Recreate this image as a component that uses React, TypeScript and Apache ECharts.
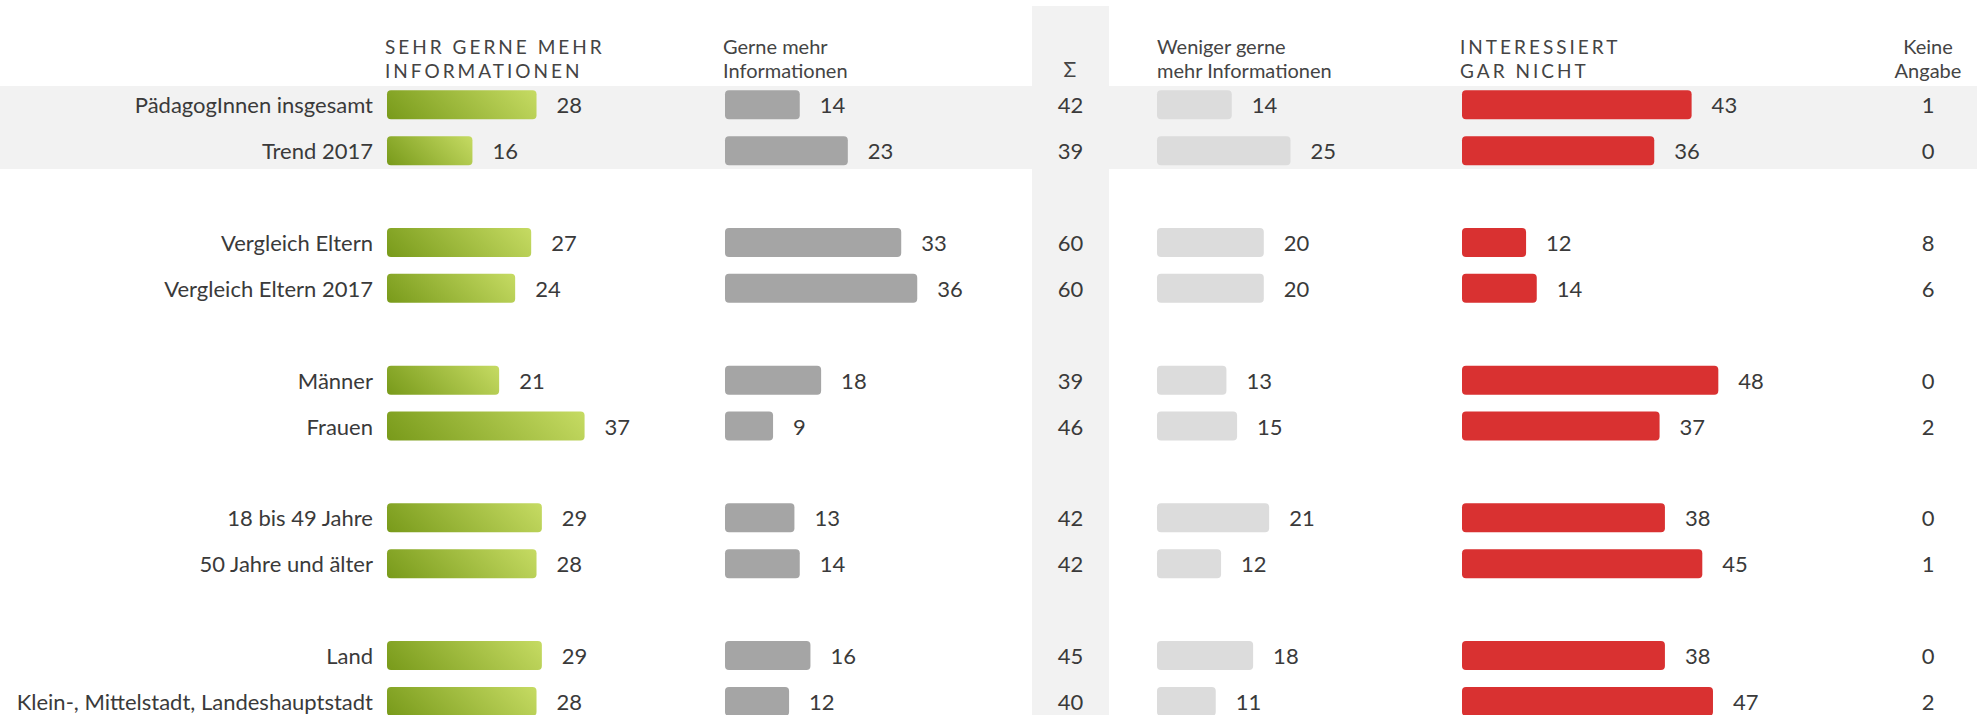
import React, { useEffect, useRef } from "react";
import * as echarts from "echarts";

const categories = [
  "PädagogInnen insgesamt",
  "Trend 2017",
  "Vergleich Eltern",
  "Vergleich Eltern 2017",
  "Männer",
  "Frauen",
  "18 bis 49 Jahre",
  "50 Jahre und älter",
  "Land",
  "Klein-, Mittelstadt, Landeshauptstadt",
];
const sehrGerne = [28, 16, 27, 24, 21, 37, 29, 28, 29, 28];
const gerne = [14, 23, 33, 36, 18, 9, 13, 14, 16, 12];
const summe = [42, 39, 60, 60, 39, 46, 42, 42, 45, 40];
const wenigerGerne = [14, 25, 20, 20, 13, 15, 21, 12, 18, 11];
const garNicht = [43, 36, 12, 14, 48, 37, 38, 45, 38, 47];
const keineAngabe = [1, 0, 8, 6, 0, 2, 0, 1, 0, 2];

const headerSehr = "SEHR GERNE MEHR\nINFORMATIONEN";
const headerGerne = "Gerne mehr\nInformationen";
const headerSum = "Σ";
const headerWeniger = "Weniger gerne\nmehr Informationen";
const headerGar = "INTERESSIERT\nGAR NICHT";
const headerKeine = "Keine\nAngabe";
const spacedLines = ["SEHR GERNE MEHR", "INFORMATIONEN", "INTERESSIERT", "GAR NICHT"];

const GROUP = 2;
const GAP = "__gap";

function withGaps<T>(arr: T[], gapVal: T): T[] {
  const out: T[] = [];
  arr.forEach((v, i) => {
    out.push(v);
    if (i % GROUP === GROUP - 1 && i < arr.length - 1) out.push(gapVal);
  });
  return out;
}

const slotCats = (() => {
  const out: string[] = [];
  categories.forEach((c, i) => {
    out.push(c);
    if (i % GROUP === GROUP - 1 && i < categories.length - 1) out.push(GAP + i);
  });
  return out;
})();

const FONT = "Lato";
const TEXT = "#3a3a3a";
const TOP = 81.8;
const HEIGHT = 642.6;
const BAR_W = 267;
const X_MAX = 50;
const BAR_H = 29;
const FS = 22;

// 45° gradient (bottom-left dark -> top-right light), expressed in the
// bar's bounding-box space so that the corners hit the two end colours
function greenGradient(params: any) {
  const v = Number(params.value) || 1;
  const w = (v / X_MAX) * BAR_W;
  const h = BAR_H;
  const f = (w + h) / (w * w + h * h);
  return new echarts.graphic.LinearGradient(0, 1, w * f, 1 - h * f, [
    { offset: 0, color: "#789a1a" },
    { offset: 1, color: "#c6db63" },
  ]);
}

export default function App() {
  const ref = useRef<HTMLDivElement>(null);
  useEffect(() => {
    if (!ref.current) return;
    const chart = echarts.init(ref.current, null, { renderer: "svg" });

    const barCols: any[] = [
      { left: 387, data: sehrGerne, color: greenGradient },
      { left: 725, data: gerne, color: "#a5a5a5" },
      { left: 1157, data: wenigerGerne, color: "#dcdcdc" },
      { left: 1462, data: garNicht, color: "#d93131" },
    ];
    const textCols = [
      { left: 1032, width: 77, data: summe },
      { left: 1900, width: 56, data: keineAngabe },
    ];

    const grids: any[] = [];
    const xAxes: any[] = [];
    const yAxes: any[] = [];
    const series: any[] = [];

    barCols.forEach((c, k) => {
      grids.push({ left: c.left, top: TOP, width: BAR_W, height: HEIGHT, containLabel: false, outerBoundsMode: "none" });
      xAxes.push({ type: "value", gridIndex: k, min: 0, max: X_MAX, show: false });
      yAxes.push({
        type: "category",
        gridIndex: k,
        data: slotCats,
        inverse: true,
        axisLine: { show: false },
        axisTick: { show: false },
        splitLine: { show: false },
        axisLabel: k === 0 ? {
          show: true,
          margin: 14,
          fontSize: FS,
          fontFamily: FONT,
          color: TEXT,
          formatter: (v: string) => (v.startsWith(GAP) ? "" : v),
        } : { show: false },
      });
      series.push({
        type: "bar",
        xAxisIndex: k,
        yAxisIndex: k,
        barWidth: BAR_H,
        data: withGaps<any>(c.data, "-"),
        itemStyle: { color: c.color, borderRadius: 4 },
        label: {
          show: true,
          position: "right",
          distance: 20,
          fontSize: FS,
          fontFamily: FONT,
          color: TEXT,
        },
      });
    });

    textCols.forEach((c, j) => {
      const k = barCols.length + j;
      grids.push({ left: c.left, top: TOP, width: c.width, height: HEIGHT, containLabel: false, outerBoundsMode: "none" });
      xAxes.push({ type: "value", gridIndex: k, min: 0, max: 1, show: false });
      yAxes.push({ type: "category", gridIndex: k, data: slotCats, inverse: true, show: false });
      const pts: any[] = [];
      withGaps<any>(c.data, null).forEach((v, i) => {
        if (v !== null) pts.push([0.5, i, v]);
      });
      series.push({
        type: "scatter",
        xAxisIndex: k,
        yAxisIndex: k,
        symbolSize: 1,
        itemStyle: { color: "rgba(0,0,0,0)", opacity: 1 },
        data: pts,
        label: {
          show: true,
          position: "inside",
          fontSize: FS,
          fontFamily: FONT,
          color: TEXT,
          opacity: 1,
          textBorderWidth: 0,
          textBorderColor: "transparent",
          formatter: (p: any) => String(p.value[2]),
        },
      });
    });

    const hdr = (text: string, x: number, align: string, size = 20) => ({
      type: "text",
      z: 10,
      style: {
        text,
        x,
        y: 34,
        align,
        verticalAlign: "top",
        fontSize: size,
        lineHeight: 24,
        fontFamily: FONT,
        fill: "#444",
      },
    });

    chart.setOption({
      animation: false,
      backgroundColor: "#ffffff",
      graphic: [
        { type: "rect", z: 0, shape: { x: 0, y: 86, width: 1977, height: 83 }, style: { fill: "#f2f2f2" } },
        { type: "rect", z: 0, shape: { x: 1032, y: 6, width: 77, height: 709 }, style: { fill: "#f2f2f2" } },
        hdr(headerSehr, 385, "left", 19),
        hdr(headerGerne, 723, "left"),
        { type: "text", z: 10, style: { text: headerSum, x: 1070, y: 68, align: "center", verticalAlign: "middle", fontSize: 21, fontFamily: FONT, fill: "#444" } },
        hdr(headerWeniger, 1157, "left"),
        hdr(headerGar, 1460, "left", 19),
        hdr(headerKeine, 1928, "center"),
      ],
      grid: grids,
      xAxis: xAxes,
      yAxis: yAxes,
      series,
    });

    const applySpacing = () => {
      const root = ref.current;
      if (!root) return;
      root.querySelectorAll("text").forEach((t) => {
        const s = (t.textContent || "").trim();
        if (spacedLines.includes(s)) {
          t.setAttribute("letter-spacing", "3");
        }
      });
    };
    applySpacing();
    chart.on("finished", applySpacing);

    return () => {
      chart.dispose();
    };
  }, []);

  return (
    <div
      ref={ref}
      style={{ position: "fixed", left: 0, top: 0, width: 1977, height: 715 }}
    />
  );
}
